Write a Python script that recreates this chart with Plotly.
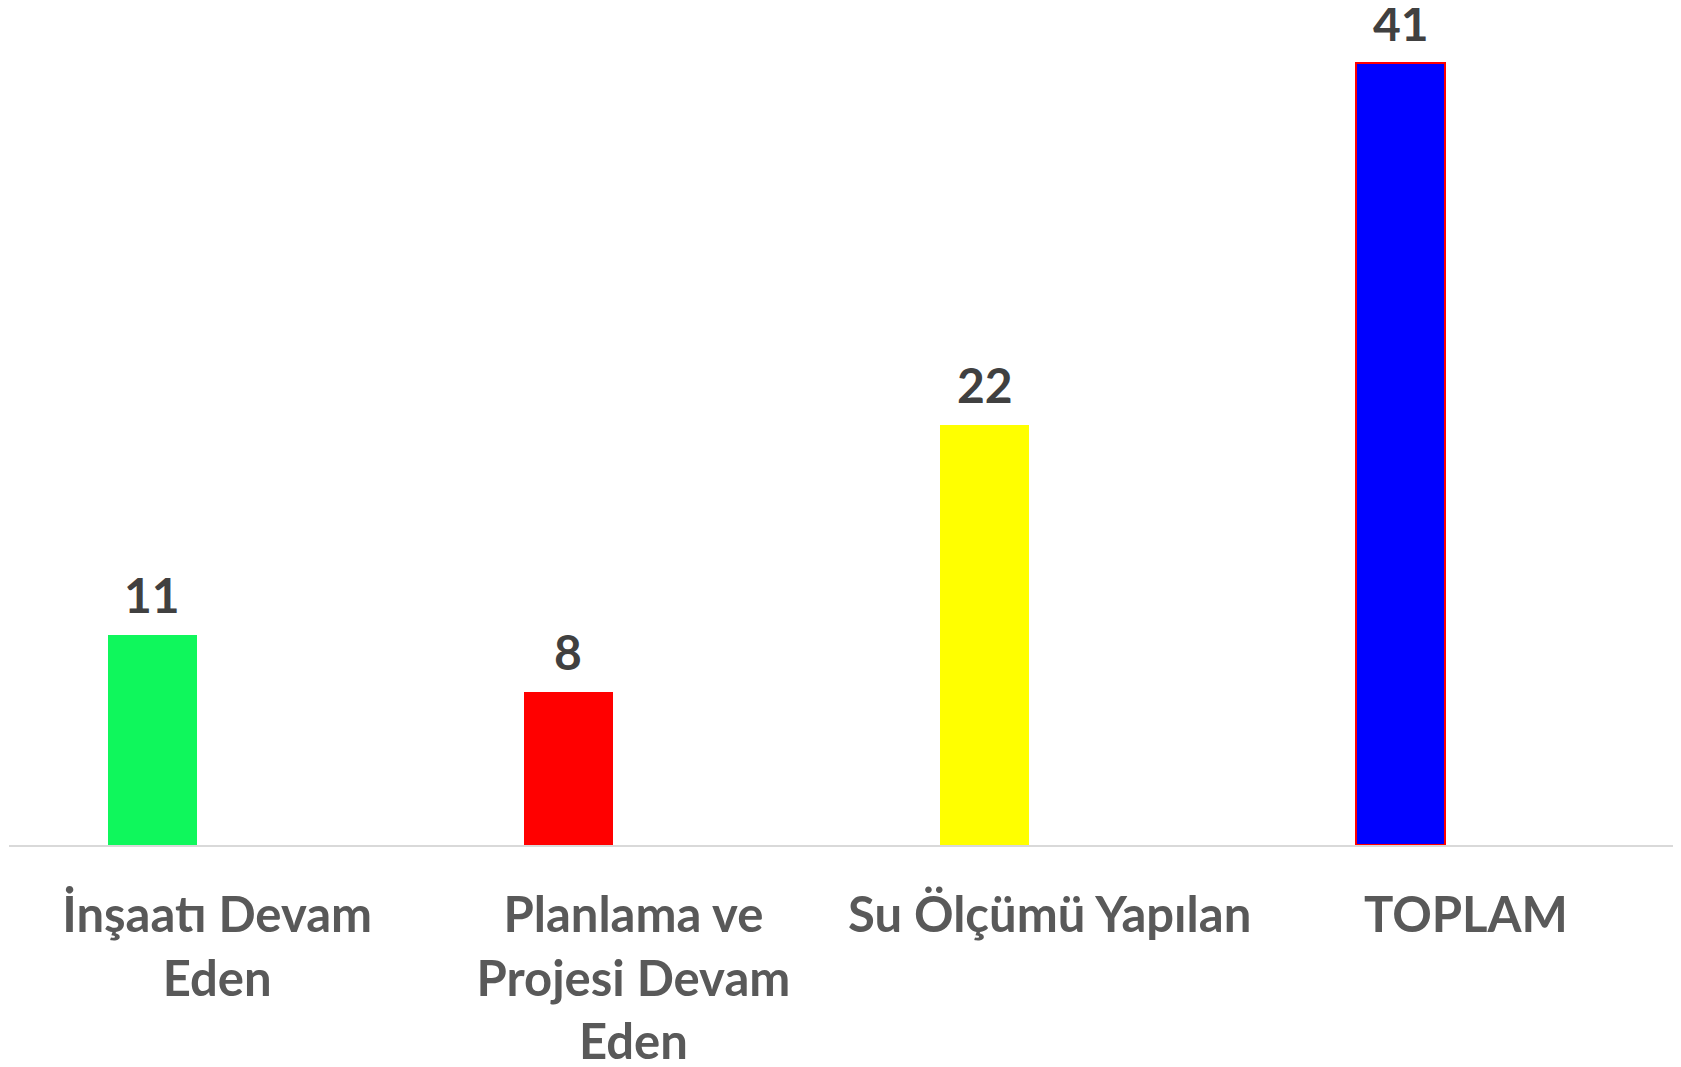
import plotly.graph_objects as go

categories = ["İnşaatı Devam<br>Eden", "Planlama ve<br>Projesi Devam<br>Eden", "Su Ölçümü Yapılan", "TOPLAM"]
values = [11, 8, 22, 41]
colors = ["#0FF75C", "#FF0000", "#FFFF00", "#0000FF"]
outline_colors = ["#0FF75C", "#FF0000", "#FFFF00", "#FF0000"]

BAR_W = 0.214
BAR_OFF = -0.263
FONT = "Lato"

W, H = 1673, 1059
ML, MR, MT, MB = 1, 7, 12, 222

fig = go.Figure()
fig.add_trace(go.Bar(
    x=categories, y=values,
    width=[BAR_W] * len(values), offset=[BAR_OFF] * len(values),
    marker=dict(color=colors, line=dict(color=outline_colors, width=[0, 0, 0, 2])),
    hoverinfo="x+y",
))

plot_w = W - ML - MR
slot_px = plot_w / len(categories)
for c, v in zip(categories, values):
    fig.add_annotation(
        x=c, y=v, text=str(v), showarrow=False,
        xshift=(BAR_OFF + BAR_W / 2) * slot_px, yshift=10, yanchor="bottom",
        font=dict(family=FONT, size=48, color="#404040", weight="bold"),
    )

fig.update_layout(
    width=W, height=H,
    margin=dict(l=ML, r=MR, t=MT, b=MB),
    plot_bgcolor="white", paper_bgcolor="white",
    showlegend=False, bargap=0,
    xaxis=dict(
        showline=True, linecolor="#D9D9D9", linewidth=2, ticks="",
        tickfont=dict(family=FONT, size=49, color="#595959", weight="bold"),
        ticklabelstandoff=26,
        showgrid=False, automargin=False,
    ),
    yaxis=dict(range=[0, 43.24], visible=False, showgrid=False, zeroline=False),
)

fig.write_html("out.html")
